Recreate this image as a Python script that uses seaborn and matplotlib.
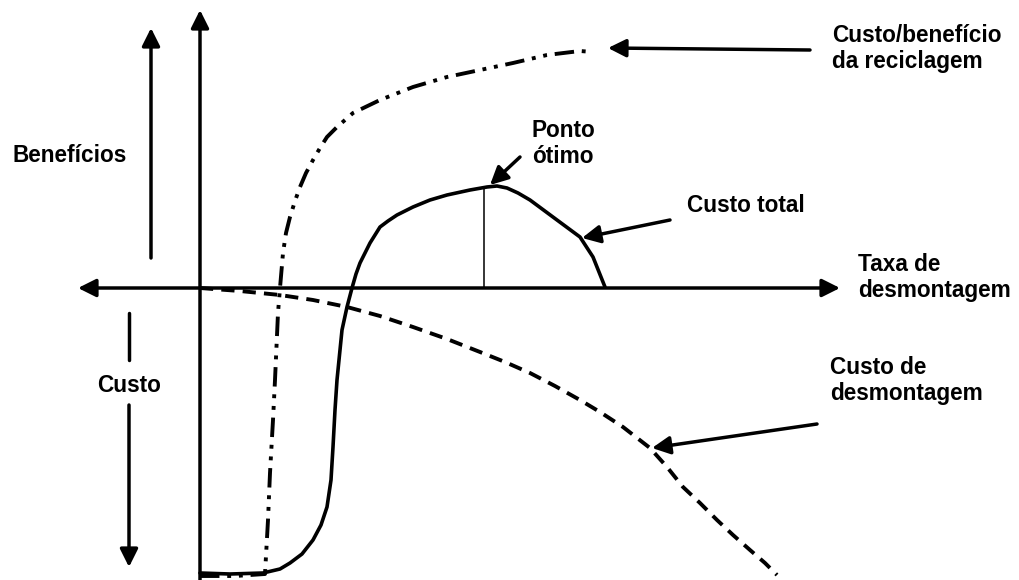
import matplotlib.pyplot as plt
import seaborn as sns

sns.set_theme(style="white")
plt.rcParams['font.family'] = ['Liberation Sans', 'DejaVu Sans']
plt.rcParams['text.color'] = 'black'

# Curvas: x = taxa de desmontagem, y = beneficio (+) / custo (-)
reciclagem_x = [200, 235, 265, 268, 270, 273, 275, 278, 280, 283, 286, 290, 295, 300, 306,
                313, 320, 327, 337, 353, 380, 413, 447, 480, 513, 547, 580, 593]
reciclagem_y = [-288, -288, -286, -232, -185, -132, -92, -25, 0, 35, 55, 71, 87, 101, 115,
                128, 140, 151, 161, 175, 188, 201, 211, 218, 225, 233, 237, 236]

total_x = [200, 230, 263, 280, 290, 302, 313, 321, 327, 331, 333, 335, 337, 340, 342,
           347, 352, 356, 360, 365, 370, 375, 380, 388, 397, 405, 413, 430, 447, 470,
           487, 497, 507, 518, 530, 557, 580, 593, 605]
total_y = [-285, -286, -285, -281, -275, -266, -252, -237, -219, -192, -159, -122, -92,
           -62, -42, -19, 0, 14, 25, 35, 45, 53, 61, 67, 73, 77, 81, 88, 93, 98,
           101, 102, 100, 95, 88, 68, 51, 31, 1]

desmont_x = [200, 240, 280, 313, 347, 380, 413, 447, 480, 505, 530, 555, 580, 600, 623,
             650, 667, 683, 700, 717, 733, 750, 765, 777]
desmont_y = [0, -3, -7, -12, -19, -28, -39, -51, -64, -74, -85, -98, -112, -124, -139,
             -160, -179, -199, -215, -232, -247, -262, -275, -287]

otimo_x = [484, 484]
otimo_y = [0, 100]

fig = plt.figure(figsize=(10.19, 5.8), dpi=100)
ax = fig.add_axes([0, 0, 1, 1])

sns.lineplot(x=reciclagem_x, y=reciclagem_y, sort=False, estimator=None, ax=ax,
             color='black', lw=2.8, linestyle=(0, (5, 2, 1, 2, 1, 2)))
sns.lineplot(x=total_x, y=total_y, sort=False, estimator=None, ax=ax,
             color='black', lw=2.6, solid_joinstyle='round')
sns.lineplot(x=desmont_x, y=desmont_y, sort=False, estimator=None, ax=ax,
             color='black', lw=2.8, linestyle=(0, (3.4, 2.1)))
sns.lineplot(x=otimo_x, y=otimo_y, sort=False, estimator=None, ax=ax,
             color='black', lw=1.1)

ax.set_xlim(0, 1019)
ax.set_ylim(-292, 288)
ax.axis('off')

head = '-|>,head_length=0.6,head_width=0.3'
seta = dict(arrowstyle=head, color='black', lw=2.5, mutation_scale=18,
            shrinkA=0, shrinkB=0)

# eixos
ax.annotate('', xy=(840, 0), xytext=(78, 0),
            arrowprops=dict(seta, arrowstyle='<|-|>,head_length=0.6,head_width=0.3'))
ax.annotate('', xy=(200, 278), xytext=(200, -292), arrowprops=seta)

# beneficios / custo
ax.annotate('', xy=(151, 260), xytext=(151, 30), arrowprops=seta)
ax.plot([129, 129], [-25, -72], color='black', lw=2.5)
ax.annotate('', xy=(129, -279), xytext=(129, -117), arrowprops=seta)

fs = 16.3
ax.text(70, 133, 'Benefícios', fontsize=fs, fontweight='bold', ha='center', va='center')
ax.text(129, -97, 'Custo', fontsize=fs, fontweight='bold', ha='center', va='center')

# rotulos das curvas
ax.annotate('', xy=(608, 240), xytext=(810, 238), arrowprops=seta)
ax.text(832, 264, 'Custo/benefício\nda reciclagem', fontsize=fs, fontweight='bold',
        ha='left', va='top', linespacing=1.15)

ax.annotate('', xy=(490, 103), xytext=(520, 131), arrowprops=seta)
ax.text(532, 169, 'Ponto\nótimo', fontsize=fs, fontweight='bold',
        ha='left', va='top', linespacing=1.15)

ax.annotate('', xy=(582, 50), xytext=(670, 68), arrowprops=seta)
ax.text(687, 83, 'Custo total', fontsize=fs, fontweight='bold', ha='left', va='center')

ax.text(858, 35, 'Taxa de\ndesmontagem', fontsize=fs, fontweight='bold',
        ha='left', va='top', linespacing=1.15)

ax.annotate('', xy=(652, -160), xytext=(817, -136), arrowprops=seta)
ax.text(830, -68, 'Custo de\ndesmontagem', fontsize=fs, fontweight='bold',
        ha='left', va='top', linespacing=1.15)

fig.savefig('out.png', dpi=100)
